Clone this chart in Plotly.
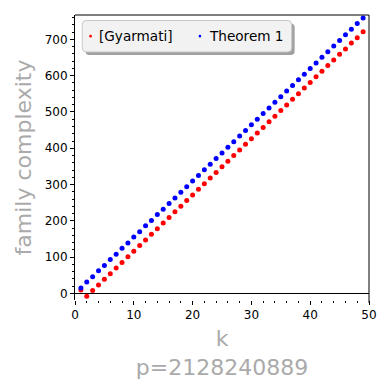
import plotly.graph_objects as go

k_values = list(range(1, 50))
gyarmati = [9, -8, 8, 23, 39, 54, 70, 85, 101, 116, 132, 147, 163, 178, 194, 209,
            225, 240, 256, 271, 287, 302, 318, 333, 349, 364, 380, 395, 411, 426,
            442, 457, 473, 488, 504, 519, 535, 550, 566, 581, 597, 612, 628, 643,
            659, 674, 690, 705, 721]
theorem1 = [15, 31, 46, 62, 77, 93, 108, 124, 139, 155, 170, 186, 201, 217, 232,
            248, 263, 279, 294, 310, 325, 341, 356, 372, 387, 403, 418, 434, 449,
            465, 480, 496, 511, 527, 542, 558, 573, 589, 604, 620, 635, 651, 666,
            682, 697, 713, 728, 744, 759]
series_names = ["[Gyarmati]", "Theorem 1"]
x_ticks = [0, 10, 20, 30, 40, 50]
y_ticks = [0, 100, 200, 300, 400, 500, 600, 700]

W, H = 389, 390
L, R, T, B = 75, 371.5, 14.5, 300.0
FONT = "DejaVu Sans"

def px(x):
    return (x - L) / (R - L)

def py(y):
    return (B - y) / (B - T)

fig = go.Figure()
fig.add_trace(go.Scatter(x=k_values, y=gyarmati, mode="markers", name=series_names[0],
                         marker=dict(color="#ff0000", size=5, line=dict(width=0)),
                         showlegend=False))
fig.add_trace(go.Scatter(x=k_values, y=theorem1, mode="markers", name=series_names[1],
                         marker=dict(color="#0000ff", size=5, line=dict(width=0)),
                         showlegend=False))

def rounded_path(x0, y0, x1, y1, r):
    def P(a, b):
        return f"{px(a):.5f},{py(b):.5f}"
    d = (f"M {P(x0 + r, y0)} L {P(x1 - r, y0)} Q {P(x1, y0)} {P(x1, y0 + r)} "
         f"L {P(x1, y1 - r)} Q {P(x1, y1)} {P(x1 - r, y1)} "
         f"L {P(x0 + r, y1)} Q {P(x0, y1)} {P(x0, y1 - r)} "
         f"L {P(x0, y0 + r)} Q {P(x0, y0)} {P(x0 + r, y0)} Z")
    return d

shapes = []
# legend shadow
shapes.append(dict(type="path", xref="paper", yref="paper",
                   path=rounded_path(85.5, 23, 296.5, 54.5, 4),
                   fillcolor="#a0a0a0", line=dict(width=0), layer="above"))
# legend box
shapes.append(dict(type="path", xref="paper", yref="paper",
                   path=rounded_path(82.3, 20, 293.5, 51.5, 4),
                   fillcolor="#f2f2f2", line=dict(color="#c8c8c8", width=1), layer="above"))
# legend markers
for cx, col in [(90.7, "#ff0000"), (201.0, "#0000ff")]:
    shapes.append(dict(type="circle", xref="paper", yref="paper",
                       x0=px(cx - 1.3), x1=px(cx + 1.3), y0=py(35.7 + 1.3), y1=py(35.7 - 1.3),
                       fillcolor=col, line=dict(width=0), layer="above"))
# top and right frame lines
shapes.append(dict(type="line", xref="paper", yref="paper", x0=0, x1=1, y0=1, y1=1,
                   line=dict(color="black", width=1)))
shapes.append(dict(type="line", xref="paper", yref="paper", x0=1, x1=1, y0=-0.01, y1=1,
                   line=dict(color="black", width=1)))

annotations = []
for tx, txt in [(97.5, series_names[0]), (208.5, series_names[1])]:
    annotations.append(dict(xref="paper", yref="paper", x=px(tx), y=py(35.5),
                            xanchor="left", yanchor="middle", text=txt, showarrow=False,
                            font=dict(family=FONT, size=13.6, color="black")))

fig.update_layout(
    width=W, height=H,
    margin=dict(l=L, r=W - R, t=T, b=H - B),
    plot_bgcolor="white", paper_bgcolor="white",
    font=dict(family=FONT, size=12, color="black"),
    shapes=shapes, annotations=annotations,
    xaxis=dict(range=[0, 50], tickvals=x_ticks, ticks="outside", ticklen=4, tickwidth=1,
               tickcolor="black", showgrid=False, zeroline=False, showline=False,
               tickfont=dict(family=FONT, size=12, color="black"),
               minor=dict(dtick=2, ticks="outside", ticklen=2, tickcolor="black", showgrid=False),
               title=dict(text="k<br>p=2128240889", standoff=9,
                          font=dict(family=FONT, size=22, color="#aaaaaa"))),
    yaxis=dict(range=[-18.4, 767.4], tickvals=y_ticks, ticks="outside", ticklen=4, tickwidth=1,
               tickcolor="black", showgrid=False, showline=True, linecolor="black", linewidth=1,
               zeroline=True, zerolinecolor="black", zerolinewidth=1,
               tickfont=dict(family=FONT, size=12, color="black"),
               minor=dict(dtick=20, ticks="outside", ticklen=2, tickcolor="black", showgrid=False),
               title=dict(text="family complexity", standoff=6,
                          font=dict(family=FONT, size=22, color="#aaaaaa"))),
)

fig.write_html("out.html")
